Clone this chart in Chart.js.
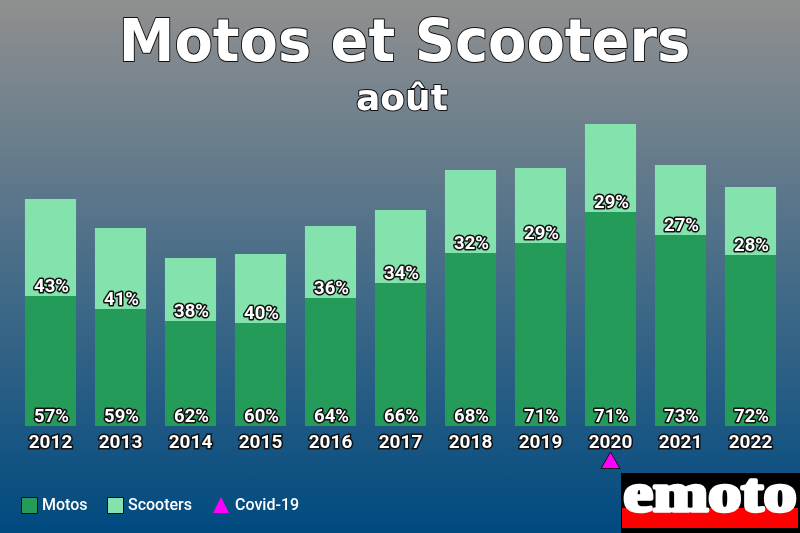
<!DOCTYPE html>
<html><head><meta charset="utf-8">
<style>html,body{margin:0;padding:0;width:800px;height:533px;overflow:hidden;background:linear-gradient(180deg,#909090 0,#004a80 100%)}canvas{display:block}</style>
<script src="https://cdn.jsdelivr.net/npm/chart.js@4"></script></head>
<body><canvas id="c" width="800" height="533"></canvas>
<script>
const years=['2012','2013','2014','2015','2016','2017','2018','2019','2020','2021','2022'];
const motos=[130,117,105,103,128,143,173,183,214,191,171];
const scooters=[97,81,63,69,72,73,83,75,88,70,68];
const motosPct=[57,59,62,60,64,66,68,71,71,73,72];
const scootersPct=[43,41,38,40,36,34,32,29,29,27,28];
const covid=[null,null,null,null,null,null,null,null,-37,null,null];
const titleText='Motos et Scooters', subtitleText='août';
const darkC='#259b5a', lightC='#84e2ac';

function stroked(ctx,t,x,y,font,lw){
  ctx.font=font;ctx.textAlign='center';ctx.textBaseline='alphabetic';ctx.lineJoin='round';
  ctx.lineWidth=lw;ctx.strokeStyle='#111';ctx.strokeText(t,x,y);ctx.fillStyle='#fff';ctx.fillText(t,x,y);
}
const overlay={id:'overlay',
 afterDatasetsDraw(ch){
  const c=ch.ctx,xs=ch.scales.x,ys=ch.scales.y;c.save();
  // the Covid marker lies below the plot area: draw the library's own point element
  ch.getDatasetMeta(2).data.forEach(p=>{if(!p.skip)p.draw(c,{left:0,top:0,right:ch.width,bottom:ch.height});});
  c.save();c.translate(404.5,61);c.scale(0.947,1);stroked(c,titleText,0,0,'bold 59px "DejaVu Sans"',2);c.restore();
  stroked(c,subtitleText,402,110,'bold 36px "DejaVu Sans"',2);
  const f='bold 18.5px Roboto';
  years.forEach((y,i)=>{const x=xs.getPixelForValue(i);
    stroked(c,motosPct[i]+'%',x+1,422,f,3);
    stroked(c,scootersPct[i]+'%',x+1,ys.getPixelForValue(motos[i])-4,f,3);
  });
  // legend
  c.textAlign='left';c.textBaseline='middle';c.font='500 16px Roboto';
  const ly=506;
  [[21,42,0],[107,128,1]].forEach(([bx,tx,d])=>{
    c.fillStyle=ch.data.datasets[d].backgroundColor;c.fillRect(bx+.5,497.5,16,16);
    c.strokeStyle='#111';c.lineWidth=1;c.strokeRect(bx+.5,497.5,16,16);
    c.fillStyle='#fff';c.fillText(ch.data.datasets[d].label,tx,ly);
  });
  c.fillStyle='#ff00ff';c.beginPath();c.moveTo(221,497);c.lineTo(229,513);c.lineTo(213,513);c.closePath();c.fill();
  c.fillStyle='#fff';c.fillText(ch.data.datasets[2].label,235,ly);
  // logo
  c.fillStyle='#000';c.fillRect(621,473,179,60);
  c.fillStyle='#f00';c.fillRect(622,508,176,20);
  c.textAlign='center';c.textBaseline='alphabetic';
  c.font='bold 62px "Liberation Serif"';c.fillStyle='#fff';c.strokeStyle='#fff';c.lineWidth=4;c.lineJoin='round';
  c.save();c.translate(710,511);c.scale(1.07,0.9);c.strokeText('emoto',0,0);c.fillText('emoto',0,0);c.restore();
  c.restore();
 }};
new Chart(document.getElementById('c'),{
 type:'bar',
 data:{labels:years,datasets:[
  {label:'Motos',data:motos,backgroundColor:darkC,stack:'s',order:2},
  {label:'Scooters',data:scooters,backgroundColor:lightC,stack:'s',order:2},
  {label:'Covid-19',type:'line',data:covid,stack:'c',showLine:false,pointStyle:'triangle',pointRadius:11,pointBackgroundColor:'#ff00ff',pointBorderColor:'#111',pointBorderWidth:1,order:1}
 ]},
 options:{responsive:false,animation:false,devicePixelRatio:1,
  layout:{padding:{left:15.5,right:14.5,top:100,bottom:0}},
  datasets:{bar:{barPercentage:0.73,categoryPercentage:1}},
  plugins:{legend:{display:false},title:{display:false},tooltip:{enabled:false}},
  scales:{
   x:{stacked:true,grid:{display:false,drawTicks:false},border:{display:false},
      afterFit(s){s.height=107;},
      ticks:{color:'#fff',padding:6,maxRotation:0,autoSkip:false,font:{family:'Roboto',size:19,weight:'bold'},textStrokeColor:'#111',textStrokeWidth:3}},
   y:{stacked:true,display:false,min:0,max:326}
  }},
 plugins:[overlay]});
</script></body></html>
